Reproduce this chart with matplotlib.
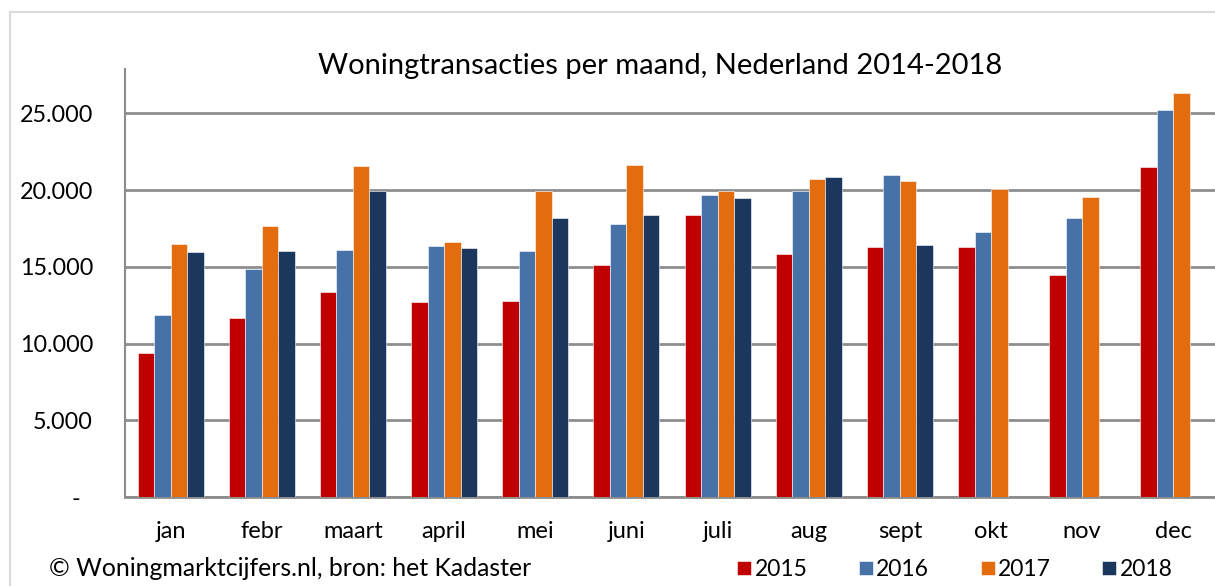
import matplotlib.pyplot as plt
from matplotlib.patches import Rectangle
import numpy as np

months = ['jan', 'febr', 'maart', 'april', 'mei', 'juni',
          'juli', 'aug', 'sept', 'okt', 'nov', 'dec']
years = ['2015', '2016', '2017', '2018']

# transactions per month (2018 only until sept)
v2015 = [9400, 11650, 13340, 12710, 12770, 15100, 18370, 15820, 16280, 16280, 14470, 21520]
v2016 = [11860, 14840, 16100, 16360, 16020, 17800, 19670, 19930, 20980, 17280, 18190, 25240]
v2017 = [16500, 17670, 21600, 16640, 19950, 21650, 19930, 20740, 20610, 20080, 19580, 26330]
v2018 = [16000, 16060, 19930, 16230, 18190, 18370, 19520, 20850, 16410, np.nan, np.nan, np.nan]

colors = ['#C00000', '#4672A8', '#E36C0E', '#1B375E']
yticks = [0, 5000, 10000, 15000, 20000, 25000]

plt.rcParams['font.family'] = ['Lato', 'DejaVu Sans']

W, H = 1215, 586
fig = plt.figure(figsize=(W / 100, H / 100), dpi=100)

# light grey outer chart border (cropped right/bottom)
fig.patches.append(Rectangle((9.5 / W, -0.05), 1.1, 1 - 11.7 / H + 0.05,
                             transform=fig.transFigure, fill=False,
                             edgecolor='#d9d9d9', linewidth=1.5))

ax = fig.add_axes([125 / W, 1 - 497 / H, 1094 / W, (497 - 69) / H])

x = np.arange(len(months))
bw = 0.181
series = [v2015, v2016, v2017, v2018]
for i, vals in enumerate(series):
    ax.bar(x + (i - 1.5) * bw, vals, width=bw, color=colors[i],
           edgecolor='white', linewidth=0.4, label=years[i], zorder=3)

ax.set_xlim(-0.5, len(months) - 0.5)
ax.set_ylim(0, 27900)
ax.set_yticks(yticks)
ax.set_yticklabels(['-  '] + ['{:,}'.format(v).replace(',', '.') for v in yticks[1:]])
ax.set_xticks(x)
ax.set_xticklabels(months)
ax.tick_params(axis='y', length=0, pad=23, labelsize=16.8)
ax.tick_params(axis='x', length=0, pad=17, labelsize=17)
ax.grid(axis='y', color='#8E8E8E', linewidth=2, zorder=0)

for side in ['top', 'right']:
    ax.spines[side].set_visible(False)
ax.spines['left'].set_color('#8C8C8C')
ax.spines['left'].set_linewidth(1.5)
ax.spines['bottom'].set_color('#8C8C8C')
ax.spines['bottom'].set_linewidth(2)

fig.text(660 / W, 1 - 66 / H, 'Woningtransacties per maand, Nederland 2014-2018',
         ha='center', va='center', fontsize=21)
fig.text(49 / W, 1 - 569 / H, '\u00a9 Woningmarktcijfers.nl, bron: het Kadaster',
         ha='left', va='center', fontsize=17.9)

fig.legend(loc='center', bbox_to_anchor=(955 / W, 1 - 570 / H), ncol=4,
           frameon=False, fontsize=16.5, handlelength=0.6, handleheight=0.55,
           handletextpad=0.15, columnspacing=2.25, borderpad=0)

fig.savefig('out.png', dpi=100)
